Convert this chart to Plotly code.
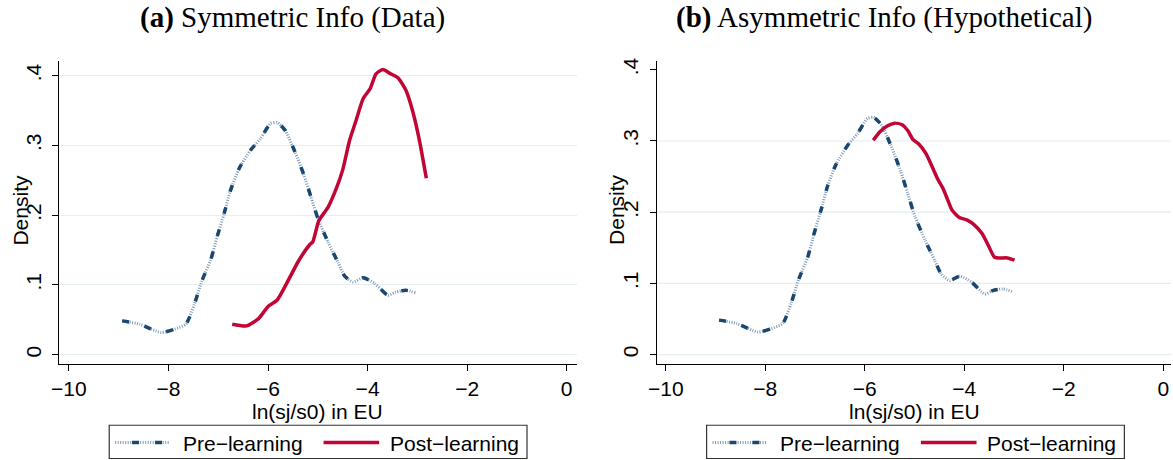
import plotly.graph_objects as go

# ---------------- data ----------------
pre_x = [-8.93, -8.58, -8.15, -7.88, -7.65, -7.48, -7.33, -7.15, -7.02, -6.88, -6.75, -6.58,
         -6.35, -6.15, -5.95, -5.82, -5.66, -5.46, -5.28, -5.14, -4.99, -4.79, -4.59, -4.46,
         -4.29, -4.09, -3.86, -3.59, -3.43, -3.23, -3.04]
pre_y = [0.0485, 0.0438, 0.0318, 0.0366, 0.0438, 0.0723, 0.1056, 0.1365, 0.1698, 0.203, 0.2364, 0.267,
         0.2934, 0.310, 0.3314, 0.333, 0.322, 0.291, 0.2578, 0.2268, 0.1936, 0.161, 0.1317, 0.1127,
         0.1041, 0.1103, 0.1023, 0.0852, 0.0899, 0.0923, 0.0889]

post_sym_x = [-6.72, -6.43, -6.19, -5.99, -5.82, -5.62, -5.39, -5.16, -5.10, -4.98, -4.79, -4.63,
              -4.50, -4.36, -4.23, -4.09, -3.95, -3.83, -3.69, -3.56, -3.39, -3.23, -3.09, -2.96, -2.82]
post_sym_y = [0.0438, 0.0414, 0.0518, 0.0699, 0.078, 0.103, 0.134, 0.158, 0.162, 0.192, 0.212, 0.238,
              0.265, 0.3077, 0.3362, 0.367, 0.3813, 0.4027, 0.409, 0.4037, 0.397, 0.379, 0.348, 0.3077, 0.253]

post_asym_x = [-5.83, -5.70, -5.55, -5.40, -5.25, -5.14, -5.03, -4.92, -4.77, -4.66, -4.54, -4.43,
               -4.32, -4.25, -4.10, -3.95, -3.80, -3.65, -3.54, -3.39, -3.28, -3.13, -2.99]
post_asym_y = [0.301, 0.3126, 0.321, 0.325, 0.3228, 0.315, 0.302, 0.296, 0.2823, 0.266, 0.2474, 0.2335,
               0.2149, 0.2033, 0.1926, 0.1893, 0.1823, 0.1707, 0.1567, 0.1367, 0.1358, 0.1358, 0.1326]

x_ticks = [-10, -8, -6, -4, -2, 0]
x_ticktext = ["\u221210", "\u22128", "\u22126", "\u22124", "\u22122", "0"]
y_ticks = [0, 0.1, 0.2, 0.3, 0.4]
y_ticktext = ["0", ".1", ".2", ".3", ".4"]

panel_titles = ["<b>(a)</b> Symmetric Info (Data)", "<b>(b)</b> Asymmetric Info (Hypothetical)"]
x_title = "ln(sj/s0) in EU"
y_title = "Density"
legend_labels = ["Pre\u2212learning", "Post\u2212learning"]

# ---------------- style ----------------
W, H = 1173, 460
NAVY = "#1a476f"
DOT = "#7f9ab5"
RED = "#c10534"
GRID = "#e6eef0"
SANS = "Liberation Sans, Arial, sans-serif"
SERIF = "Liberation Serif, Times New Roman, serif"
FS = 21


def px(x):
    return x / W


def py(y):
    return 1 - y / H


fig = go.Figure()


def add_pre(xa, ya):
    fig.add_trace(go.Scatter(x=pre_x, y=pre_y, mode="lines", xaxis=xa, yaxis=ya,
                             line=dict(color=DOT, width=3, dash="1px,1.5px", shape="spline", smoothing=0.6),
                             showlegend=False, hoverinfo="skip"))
    fig.add_trace(go.Scatter(x=pre_x, y=pre_y, mode="lines", xaxis=xa, yaxis=ya,
                             line=dict(color=NAVY, width=3.5, dash="7px,16px", shape="spline", smoothing=0.6),
                             showlegend=False, name=legend_labels[0]))


add_pre("x", "y")
fig.add_trace(go.Scatter(x=post_sym_x, y=post_sym_y, mode="lines", xaxis="x", yaxis="y",
                         line=dict(color=RED, width=3.5, shape="spline", smoothing=0.6),
                         showlegend=False, name=legend_labels[1]))
add_pre("x2", "y2")
fig.add_trace(go.Scatter(x=post_asym_x, y=post_asym_y, mode="lines", xaxis="x2", yaxis="y2",
                         line=dict(color=RED, width=3.5, shape="spline", smoothing=0.6),
                         showlegend=False, name=legend_labels[1]))

axis_common = dict(showline=True, linecolor="black", linewidth=1.3, ticks="outside", ticklen=6,
                   tickcolor="black", tickwidth=1.2, zeroline=False,
                   tickfont=dict(family=SANS, size=FS, color="black"))

ytop, ybot = 58.3, 363.3
fig.update_layout(
    width=W, height=H, margin=dict(l=0, r=0, t=0, b=0),
    paper_bgcolor="white", plot_bgcolor="white", showlegend=False,
    xaxis=dict(domain=[px(50.7), px(572)], range=[-10.193, 0.199], anchor="y",
               tickvals=x_ticks, ticktext=x_ticktext, showgrid=False, **axis_common),
    yaxis=dict(domain=[py(ybot), py(ytop)], range=[-0.0132, 0.4212], anchor="x",
               tickvals=y_ticks, ticktext=y_ticktext, tickangle=-90, showgrid=True,
               gridcolor=GRID, gridwidth=1.2, ticklabelstandoff=3, **axis_common),
    xaxis2=dict(domain=[px(652.7), px(1171)], range=[-10.184, 0.156], anchor="y2",
                tickvals=x_ticks, ticktext=x_ticktext, showgrid=False, **axis_common),
    yaxis2=dict(domain=[py(ybot), py(ytop)], range=[-0.013, 0.4124], anchor="x2",
                tickvals=y_ticks, ticktext=y_ticktext, tickangle=-90, showgrid=False,
                ticklabelstandoff=3, **axis_common),
)

ann = []
shapes = []
# right panel gridlines (the top one is not drawn in the original)
for v in y_ticks[:-1]:
    shapes.append(dict(type="line", xref="x2 domain", yref="y2", x0=0, x1=1, y0=v, y1=v,
                       layer="below", line=dict(color=GRID, width=1.2)))

for i, off in enumerate([0, 602]):
    # panel title
    ann.append(dict(text=panel_titles[i], x=px([286, 881.5][i]), y=py(15), xref="paper", yref="paper",
                    showarrow=False, xanchor="center", yanchor="middle",
                    font=dict(family=SERIF, size=29, color="black")))
    # axis titles
    ann.append(dict(text=x_title, x=px(311 + off), y=py(411), xref="paper", yref="paper",
                    showarrow=False, xanchor="center", yanchor="middle",
                    font=dict(family=SANS, size=FS, color="black")))
    ann.append(dict(text=y_title, x=px(12 + [0, 600][i]), y=py(208), xref="paper", yref="paper",
                    showarrow=False, xanchor="center", yanchor="middle", textangle=-90,
                    font=dict(family=SANS, size=FS, color="black")))
    # legend box
    shapes.append(dict(type="rect", xref="paper", yref="paper", x0=px(101 + off), x1=px(522 + off),
                       y0=py(458.5), y1=py(425), line=dict(color="#333333", width=1.2),
                       fillcolor="white"))
    ly = py(442.5)
    shapes.append(dict(type="line", xref="paper", yref="paper", x0=px(107 + off), x1=px(162 + off),
                       y0=ly, y1=ly, line=dict(color=DOT, width=3, dash="1px,1.5px")))
    shapes.append(dict(type="line", xref="paper", yref="paper", x0=px(124 + off), x1=px(162 + off),
                       y0=ly, y1=ly, line=dict(color=NAVY, width=3.5, dash="7px,16px")))
    shapes.append(dict(type="line", xref="paper", yref="paper", x0=px(317 + off), x1=px(373 + off),
                       y0=ly, y1=ly, line=dict(color=RED, width=3.5)))
    ann.append(dict(text=legend_labels[0], x=px(173 + off), y=py(443), xref="paper", yref="paper",
                    showarrow=False, xanchor="left", yanchor="middle",
                    font=dict(family=SANS, size=FS, color="black")))
    ann.append(dict(text=legend_labels[1], x=px(382 + off), y=py(443), xref="paper", yref="paper",
                    showarrow=False, xanchor="left", yanchor="middle",
                    font=dict(family=SANS, size=FS, color="black")))

fig.update_layout(annotations=ann, shapes=shapes)
fig.write_html("out.html", config={"displayModeBar": False},
               post_script="document.body.style.margin='0';document.body.style.overflow='hidden';")
